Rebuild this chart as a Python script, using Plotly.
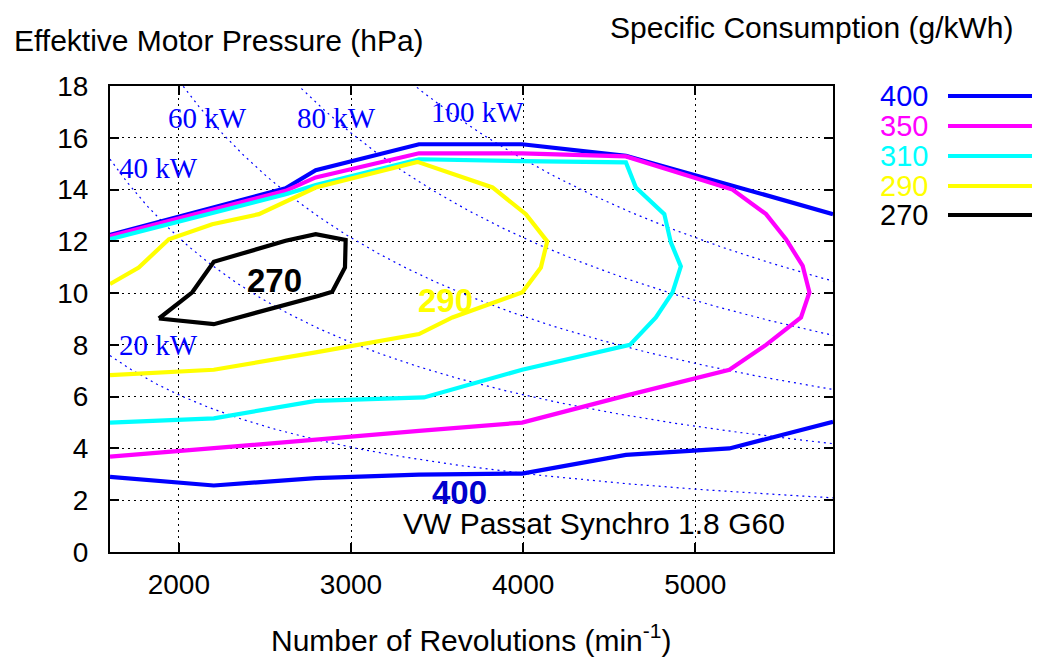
import numpy as np
import plotly.graph_objects as go

# ---------------- data ----------------
levels = [400, 350, 310, 290, 270]
level_colors = ["#0000ff", "#ff00ff", "#00ffff", "#ffff00", "#000000"]

# 400 g/kWh (two branches)
rpm_400_upper = [1600, 2620, 2795, 3395, 3994, 4597, 5216, 5800]
p_400_upper = [12.25, 14.05, 14.75, 15.75, 15.75, 15.3, 14.15, 13.05]
rpm_400_lower = [1600, 2203, 2795, 3395, 3994, 4597, 5198, 5800]
p_400_lower = [2.9, 2.57, 2.85, 2.99, 3.03, 3.75, 4.0, 5.03]

# 350 g/kWh
rpm_350 = [1600, 2620, 2795, 3395, 3994, 4597, 5216, 5411, 5527, 5624, 5663,
           5614, 5411, 5198, 4597, 3994, 3395, 2795, 2203, 1600]
p_350 = [12.2, 13.95, 14.47, 15.4, 15.4, 15.28, 14.0, 13.05, 12.08, 11.05, 10.03,
         9.06, 8.0, 7.04, 6.04, 5.0, 4.68, 4.36, 4.01, 3.68]

# 310 g/kWh
rpm_310 = [1600, 2620, 2795, 3395, 3994, 4597, 4655, 4820, 4858, 4916, 4868,
           4771, 4620, 3994, 3424, 2795, 2203, 1600]
p_310 = [12.08, 13.82, 14.17, 15.17, 15.1, 15.05, 14.08, 13.05, 11.96, 11.03, 10.03,
         9.06, 8.0, 7.04, 5.97, 5.84, 5.16, 5.0]

# 290 g/kWh
rpm_290 = [1600, 1767, 1942, 2194, 2465, 2795, 3386, 3822, 4016, 4140, 4103,
           3996, 3589, 3395, 2795, 2203, 1600]
p_290 = [10.35, 10.99, 12.08, 12.66, 13.05, 14.08, 15.07, 14.08, 13.05, 12.0, 10.99,
         10.03, 9.06, 8.42, 7.71, 7.04, 6.83]

# 270 g/kWh (closed island)
rpm_270 = [1884, 2078, 2203, 2620, 2795, 2969, 2965, 2891, 2814, 2203, 1884]
p_270 = [9.02, 10.03, 11.21, 12.02, 12.28, 12.05, 10.99, 10.05, 9.9, 8.8, 9.02]

# iso-power curves (kW): pressure = K * P / n, K
power_levels = [20, 40, 60, 80, 100]
power_k = 607.0

x_ticks = [2000, 3000, 4000, 5000]
y_ticks = list(range(0, 19, 2))

# ---------------- figure ----------------
FONT = "Liberation Sans, Arial, sans-serif"
SERIF = "Liberation Serif, Times New Roman, serif"
W, H = 1046, 660
ML, MR, MT, MB = 110, 213, 86, 108
PW, PH = W - ML - MR, H - MT - MB


def px(xp):
    return (xp - ML) / PW


def py(yp):
    return (H - MB - yp) / PH


fig = go.Figure()

n_grid = np.linspace(1600, 5800, 400)
for P in power_levels:
    fig.add_trace(go.Scatter(
        x=n_grid, y=power_k * P / n_grid, mode="lines",
        line=dict(color="#0000ff", width=1.2, dash="2px,4px"),
        hoverinfo="skip", showlegend=False))

series = [
    (rpm_400_upper + [None] + rpm_400_lower, p_400_upper + [None] + p_400_lower),
    (rpm_350, p_350),
    (rpm_310, p_310),
    (rpm_290, p_290),
    (rpm_270, p_270),
]
for (xs, ys), lev, col in zip(series, levels, level_colors):
    fig.add_trace(go.Scatter(
        x=xs, y=ys, mode="lines", name=str(lev),
        line=dict(color=col, width=4.2), connectgaps=False, showlegend=False))

annotations = []
# kW labels
kw_labels = [("60 kW", 2167, 16.76), ("80 kW", 2917, 16.76), ("100 kW", 3736, 16.99),
             ("40 kW", 1883, 14.83), ("20 kW", 1883, 7.99)]
for t, xx, yy in kw_labels:
    annotations.append(dict(x=xx, y=yy, xref="x", yref="y", text=t, showarrow=False,
                            yanchor="middle",
                            font=dict(family=SERIF, size=29, color="#0000ff")))
# contour level labels
annotations += [
    dict(x=2555, y=10.5, xref="x", yref="y", text="<b>270</b>", showarrow=False,
         yanchor="middle", font=dict(family=FONT, size=33, color="#000000")),
    dict(x=3551, y=9.73, xref="x", yref="y", text="<b>290</b>", showarrow=False,
         yanchor="middle", font=dict(family=FONT, size=33, color="#ffff00")),
    dict(x=3632, y=2.3, xref="x", yref="y", text="<b>400</b>", showarrow=False,
         yanchor="middle", font=dict(family=FONT, size=33, color="#0000cd")),
    dict(x=5533, y=1.12, xref="x", yref="y", text="VW Passat Synchro 1.8 G60",
         showarrow=False, xanchor="right", yanchor="middle",
         font=dict(family=FONT, size=30, color="#000000")),
]
# titles
annotations += [
    dict(x=px(12), y=py(40), xref="paper", yref="paper", xanchor="left",
         yanchor="middle", text="Effektive Motor Pressure (hPa)", showarrow=False,
         font=dict(family=FONT, size=30, color="#000000")),
    dict(x=px(1015), y=py(28), xref="paper", yref="paper", xanchor="right",
         yanchor="middle", text="Specific Consumption (g/kWh)", showarrow=False,
         font=dict(family=FONT, size=30, color="#000000")),
    dict(x=0.5, y=py(638), xref="paper", yref="paper", yanchor="middle",
         text="Number of Revolutions (min<sup>-1</sup>)", showarrow=False,
         font=dict(family=FONT, size=30, color="#000000")),
]
# custom legend (text left, line sample right)
shapes = []
leg_rows = [96, 126, 156, 186, 215]
for lev, col, ry in zip(levels, level_colors, leg_rows):
    annotations.append(dict(x=px(930), y=py(ry), xref="paper", yref="paper",
                            xanchor="right", yanchor="middle", text=str(lev),
                            showarrow=False,
                            font=dict(family=FONT, size=29, color=col)))
    shapes.append(dict(type="line", xref="paper", yref="paper",
                       x0=px(948), x1=px(1032), y0=py(ry), y1=py(ry),
                       line=dict(color=col, width=4.2)))

axis_common = dict(
    showline=True, linecolor="#000000", linewidth=2, mirror="allticks",
    ticks="inside", ticklen=9, tickwidth=1.5, tickcolor="#000000",
    showgrid=True, gridcolor="#000000", gridwidth=1, griddash="2px,4px",
    zeroline=False, tickfont=dict(family=FONT, size=28, color="#000000"),
)
fig.update_xaxes(range=[1600, 5800], tickvals=x_ticks, ticklabelstandoff=6, **axis_common)
fig.update_yaxes(range=[0, 18], tickvals=y_ticks, ticklabelstandoff=14, **axis_common)

fig.update_layout(
    width=W, height=H, margin=dict(l=ML, r=MR, t=MT, b=MB),
    paper_bgcolor="#ffffff", plot_bgcolor="#ffffff",
    annotations=annotations, shapes=shapes, showlegend=False,
    font=dict(family=FONT, color="#000000"),
)

fig.write_html("out.html")
